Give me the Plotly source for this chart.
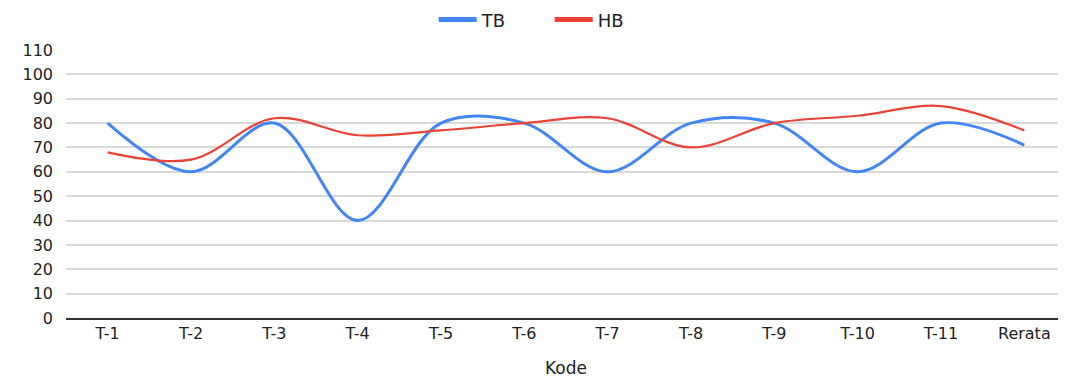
import plotly.graph_objects as go

categories = ["T-1", "T-2", "T-3", "T-4", "T-5", "T-6", "T-7", "T-8", "T-9", "T-10", "T-11", "Rerata"]
tb_values = [80, 60, 80, 40, 80, 80, 60, 80, 80, 60, 80, 71]
hb_values = [68, 65, 82, 75, 77, 80, 82, 70, 80, 83, 87, 77]
y_ticks = list(range(0, 111, 10))

BLUE = "#4285F4"
RED = "#EA4335"
FONT = "DejaVu Sans, Liberation Sans, Arial, sans-serif"

fig = go.Figure()
fig.add_trace(go.Scatter(x=categories, y=tb_values, name="TB", mode="lines", showlegend=False,
                         line=dict(color=BLUE, width=3, shape="spline", smoothing=1.0)))
fig.add_trace(go.Scatter(x=categories, y=hb_values, name="HB", mode="lines", showlegend=False,
                         line=dict(color=RED, width=2.2, shape="spline", smoothing=1.0)))
# legend entries (thicker swatches like the reference)
fig.add_trace(go.Scatter(x=[None], y=[None], name="TB", mode="lines",
                         line=dict(color=BLUE, width=5)))
fig.add_trace(go.Scatter(x=[None], y=[None], name="HB", mode="lines",
                         line=dict(color=RED, width=5)))

fig.update_layout(
    width=1058, height=370,
    margin=dict(l=58, r=0, t=42, b=60, autoexpand=False),
    paper_bgcolor="white", plot_bgcolor="white",
    font=dict(family=FONT, size=16, color="#222"),
    legend=dict(orientation="h", xref="container", x=0.512, xanchor="center",
                yref="container", y=0.968, yanchor="middle",
                font=dict(size=18, color="#222"), itemwidth=38,
                entrywidth=63, tracegroupgap=0),
    xaxis=dict(title=dict(text="Kode", font=dict(size=17, color="#222"), standoff=34),
               range=[-0.5, 11.5], showgrid=False, showline=True, linecolor="#333",
               linewidth=1.5, automargin=False, tickfont=dict(size=16, color="#222")),
    yaxis=dict(range=[0, 110], tickvals=y_ticks, showgrid=True, gridcolor="#d9d9d9",
               gridwidth=1.5, zeroline=False, ticklabelstandoff=12, automargin=False,
               tickfont=dict(size=16, color="#222")),
)

fig.write_html("out.html")
